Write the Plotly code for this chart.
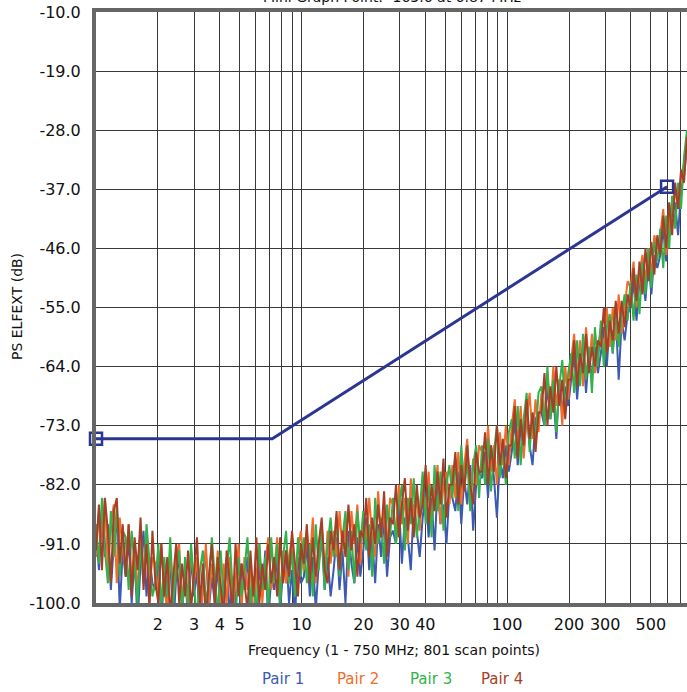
import numpy as np
import plotly.graph_objects as go

# ---------------- data ----------------
pair1 = [
    -89, -95, -86, -93, -88, -98, -91, -87, -101, -92,
    -96, -90, -100, -93, -103, -94, -89, -99, -93, -97,
    -98, -92, -103, -95, -100, -93, -104, -96, -93, -101,
    -96, -102, -93, -99, -95, -104, -97, -92, -101, -96,
    -100, -94, -104, -97, -93, -102, -96, -99, -105, -94,
    -98, -93, -102, -96, -104, -94, -99, -92, -103, -96,
    -98, -93, -101, -95, -92, -100, -95, -102, -93, -97,
    -96, -91, -99, -93, -101, -94, -90, -98, -93, -99,
    -95, -90, -98, -92, -100, -89, -94, -97, -90, -96,
    -92, -87, -95, -90, -97, -88, -93, -87, -96, -90,
    -89, -91, -85, -94, -87, -90, -95, -85, -89, -93,
    -87, -83, -90, -84, -92, -82, -88, -85, -91, -83,
    -84, -86, -80, -88, -81, -85, -79, -89, -82, -80,
    -81, -77, -84, -76, -81, -87, -78, -81, -76, -80,
    -77, -72, -79, -73, -77, -71, -76, -79, -72, -71,
    -71, -73, -67, -72, -68, -75, -66, -71, -67, -70,
    -66, -62, -69, -63, -61, -68, -62, -66, -61, -65,
    -62, -58, -64, -57, -62, -56, -66, -57, -60, -56,
    -55, -51, -57, -51, -50, -54, -48, -53, -47, -49,
    -47, -43, -48, -42, -41, -39, -44, -37, -35, -30,
]
pair2 = [
    -93, -86, -90, -84, -95, -88, -85, -97, -87, -92,
    -95, -88, -97, -91, -99, -89, -96, -90, -98, -93,
    -94, -99, -91, -98, -101, -92, -99, -93, -91, -100,
    -95, -101, -92, -97, -93, -102, -98, -91, -100, -94,
    -98, -92, -101, -94, -100, -93, -102, -96, -91, -101,
    -93, -98, -94, -103, -96, -91, -100, -94, -90, -98,
    -95, -90, -99, -92, -97, -93, -90, -98, -92, -89,
    -95, -89, -94, -87, -97, -91, -88, -96, -89, -94,
    -89, -93, -86, -92, -88, -96, -86, -91, -85, -94,
    -87, -91, -84, -90, -93, -83, -90, -86, -92, -84,
    -85, -90, -82, -88, -84, -91, -81, -87, -84, -89,
    -82, -86, -80, -88, -83, -79, -88, -82, -80, -85,
    -79, -84, -77, -85, -79, -75, -84, -78, -82, -76,
    -77, -81, -73, -80, -76, -82, -74, -79, -73, -79,
    -73, -69, -76, -70, -78, -72, -68, -75, -69, -74,
    -68, -72, -65, -71, -64, -70, -66, -73, -64, -69,
    -63, -59, -66, -60, -67, -58, -64, -59, -65, -61,
    -58, -62, -55, -61, -55, -60, -53, -59, -55, -51,
    -52, -48, -55, -50, -47, -51, -46, -50, -44, -46,
    -44, -40, -47, -42, -39, -37, -40, -35, -33, -30,
]
pair3 = [
    -88, -94, -84, -92, -97, -86, -93, -85, -96, -89,
    -90, -98, -89, -95, -100, -91, -97, -88, -94, -99,
    -97, -91, -101, -93, -99, -90, -100, -95, -92, -102,
    -93, -100, -91, -98, -103, -95, -92, -100, -97, -90,
    -96, -102, -92, -100, -95, -90, -98, -103, -93, -99,
    -95, -90, -100, -96, -102, -91, -98, -93, -101, -90,
    -97, -91, -100, -93, -89, -97, -92, -99, -90, -96,
    -90, -97, -91, -99, -88, -95, -89, -98, -91, -87,
    -93, -87, -96, -90, -86, -95, -89, -97, -86, -91,
    -86, -92, -88, -96, -84, -91, -87, -94, -85, -90,
    -84, -91, -85, -82, -92, -84, -88, -81, -90, -86,
    -80, -88, -82, -90, -79, -86, -80, -89, -82, -79,
    -84, -78, -86, -76, -83, -78, -86, -79, -76, -84,
    -76, -82, -75, -83, -77, -73, -81, -76, -82, -74,
    -72, -78, -70, -79, -72, -68, -77, -71, -75, -68,
    -67, -73, -64, -72, -66, -74, -67, -63, -71, -65,
    -62, -68, -60, -67, -59, -66, -61, -68, -58, -64,
    -57, -64, -58, -56, -62, -55, -61, -56, -53, -57,
    -51, -57, -50, -56, -48, -53, -46, -52, -45, -48,
    -43, -49, -41, -46, -38, -43, -36, -40, -32, -28,
]
pair4 = [
    -92, -85, -95, -84, -89, -97, -86, -84, -94, -88,
    -96, -88, -99, -90, -95, -87, -98, -91, -101, -89,
    -97, -100, -91, -99, -93, -102, -96, -91, -100, -94,
    -99, -92, -101, -95, -90, -100, -94, -103, -96, -91,
    -100, -93, -98, -102, -92, -97, -101, -91, -99, -94,
    -97, -101, -92, -99, -90, -100, -94, -98, -91, -97,
    -93, -99, -90, -97, -92, -96, -89, -94, -99, -91,
    -94, -88, -97, -90, -96, -91, -87, -95, -97, -89,
    -92, -86, -95, -89, -93, -85, -92, -88, -96, -89,
    -90, -84, -93, -87, -91, -85, -90, -83, -93, -87,
    -88, -82, -90, -85, -81, -89, -84, -90, -82, -87,
    -85, -79, -88, -82, -86, -80, -85, -78, -87, -82,
    -82, -77, -85, -79, -83, -76, -82, -85, -77, -80,
    -80, -74, -82, -76, -80, -73, -79, -75, -81, -76,
    -76, -70, -78, -72, -76, -69, -75, -71, -77, -71,
    -71, -65, -73, -67, -71, -64, -70, -66, -72, -66,
    -66, -60, -67, -62, -65, -59, -65, -61, -64, -60,
    -61, -55, -62, -57, -60, -54, -59, -54, -58, -53,
    -55, -49, -54, -48, -53, -46, -51, -45, -50, -44,
    -47, -41, -46, -39, -44, -36, -40, -34, -36, -29,
]
f_start, f_stop = 1, 750
freq = np.geomspace(f_start, f_stop, len(pair1))

limit_freq = [1, 7.2, 600]
limit_db = [-75, -75, -36.6]
marker_freq = [1, 600]
marker_db = [-75, -36.6]

series_names = ["Pair 1", "Pair 2", "Pair 3", "Pair 4"]
series_colors = ["#3d5ab2", "#f26b2a", "#33b14b", "#a63f27"]

x_tickvals = [2, 3, 4, 5, 10, 20, 30, 40, 100, 200, 300, 500]
x_ticktext = ["2", "3", "4", "5", "10", "20", "30", "40", "100", "200", "300", "500"]
x_minor = [6, 7, 8, 9, 50, 60, 70, 80, 90, 400, 600, 700]
y_tickvals = [-100, -91, -82, -73, -64, -55, -46, -37, -28, -19, -10]
y_ticktext = ["%.1f" % v for v in y_tickvals]

title_text = "Mini Graph Point: -163.6 at 6.87 MHz"
x_title = "Frequency (1 - 750 MHz; 801 scan points)"
y_title = "PS ELFEXT (dB)"

# ---------------- figure ----------------
FONT = "DejaVu Sans"
GRID = "#3a3a3a"
fig = go.Figure()
for name, col, vals in zip(series_names, series_colors, [pair1, pair2, pair3, pair4]):
    fig.add_trace(go.Scatter(x=freq, y=vals, mode="lines", name=name,
                             line=dict(color=col, width=2), showlegend=False))

fig.add_trace(go.Scatter(x=limit_freq, y=limit_db, mode="lines",
                         line=dict(color="#2b3592", width=3), showlegend=False))
fig.add_trace(go.Scatter(x=marker_freq, y=marker_db, mode="markers",
                         marker=dict(symbol="square-open", size=12, color="#2b3592",
                                     line=dict(width=2.5, color="#2b3592")),
                         showlegend=False, cliponaxis=False))

fig.update_xaxes(type="log", range=[np.log10(f_start), np.log10(f_stop)],
                 tickmode="array", tickvals=x_tickvals, ticktext=x_ticktext,
                 showgrid=True, gridcolor=GRID, gridwidth=1,
                 minor=dict(tickmode="array", tickvals=x_minor, showgrid=True,
                            gridcolor=GRID, gridwidth=1, ticks=""),
                 showline=True, linecolor="#666666", linewidth=4, mirror=True,
                 ticks="outside", ticklen=4, tickcolor="rgba(0,0,0,0)",
                 tickfont=dict(family=FONT, size=16, color="#111"), zeroline=False)
fig.update_yaxes(range=[-100, -10], tickmode="array", tickvals=y_tickvals,
                 ticktext=y_ticktext, showgrid=True, gridcolor=GRID, gridwidth=1,
                 showline=True, linecolor="#666666", linewidth=4, mirror=False,
                 ticks="outside", ticklen=8, tickcolor="rgba(0,0,0,0)",
                 tickfont=dict(family=FONT, size=16, color="#111"), zeroline=False)

def px_x(px):
    return (px - 96) / 591

def px_y(py):
    return (603 - py) / 591

annotations = [
    dict(text=title_text, x=px_x(392), y=px_y(-3), xref="paper", yref="paper",
         xanchor="center", yanchor="middle",
         showarrow=False, font=dict(family=FONT, size=14, color="#111")),
    dict(text=x_title, x=px_x(394), y=px_y(650), xref="paper", yref="paper",
         xanchor="center", yanchor="middle",
         showarrow=False, font=dict(family=FONT, size=14, color="#111")),
    dict(text=y_title, x=px_x(17), y=px_y(307), xref="paper", yref="paper",
         xanchor="center", yanchor="middle", textangle=-90,
         showarrow=False, font=dict(family=FONT, size=14, color="#111")),
]
legend_x = [283, 358, 431, 502]
for name, col, px in zip(series_names, series_colors, legend_x):
    annotations.append(dict(text=name, x=px_x(px), y=px_y(679), xref="paper",
                            yref="paper", xanchor="center", yanchor="middle",
                            showarrow=False,
                            font=dict(family=FONT, size=15, color=col)))

fig.update_layout(width=687, height=692, margin=dict(l=96, r=0, t=12, b=89),
                  paper_bgcolor="white", plot_bgcolor="white",
                  annotations=annotations)

fig.write_html("out.html")
